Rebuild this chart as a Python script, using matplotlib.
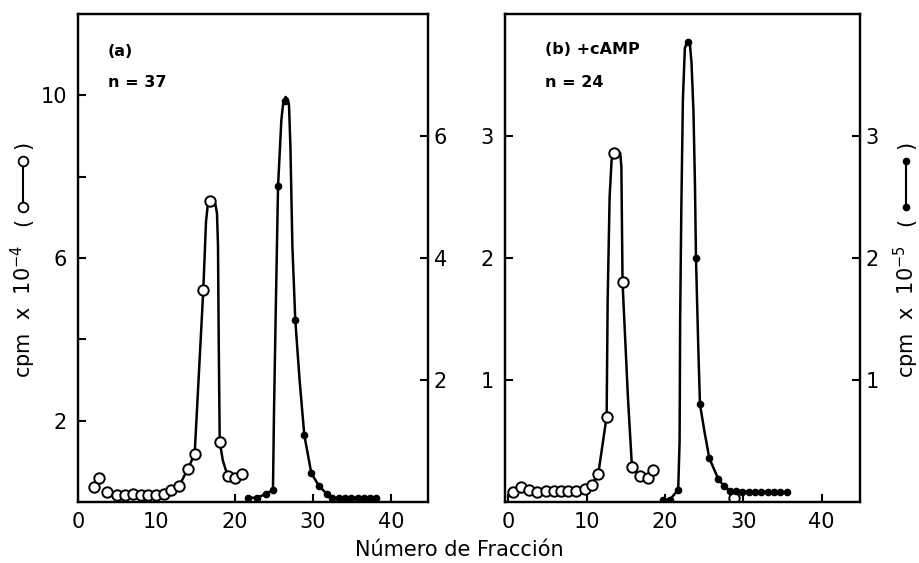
import matplotlib.pyplot as plt
from matplotlib.lines import Line2D

W, H = 919, 563

# ---- panel (a): n = 37 ----
# open circles, left axis (cpm x 10^-4)
a_open_x = [2.0, 2.7, 3.7, 5.0, 6.0, 7.0, 8.1, 9.0, 10.0, 11.0, 11.9, 12.9,
            14.0, 14.9, 16.0, 16.8, 18.1, 19.1, 20.0, 21.0]
a_open_y = [0.37, 0.58, 0.25, 0.17, 0.17, 0.20, 0.17, 0.17, 0.17, 0.20, 0.30, 0.39,
            0.80, 1.18, 5.21, 7.39, 1.48, 0.65, 0.58, 0.69]
# hand drawn curve through the open peak
a_open_line_x = [12.9, 14.0, 14.9, 15.45, 16.0, 16.35, 16.6, 16.8, 17.2, 17.55,
                 17.75, 17.88, 17.98, 18.1, 18.5, 19.1]
a_open_line_y = [0.39, 0.80, 1.18, 3.2, 5.21, 6.9, 7.35, 7.42, 7.42, 7.32,
                 7.1, 6.3, 3.8, 1.48, 1.02, 0.65]

# filled dots, right axis (cpm x 10^-5)
a_fill_x = [21.7, 22.8, 24.0, 24.9, 25.55, 26.5, 27.75, 28.9, 29.8, 30.8, 31.8,
            32.5, 33.3, 34.1, 34.9, 35.7, 36.5, 37.3, 38.0]
a_fill_y = [0.07, 0.07, 0.13, 0.20, 5.18, 6.58, 2.98, 1.10, 0.47, 0.26, 0.13,
            0.07, 0.07, 0.07, 0.07, 0.07, 0.07, 0.07, 0.07]
a_fill_line_x = [21.7, 22.8, 24.0, 24.9, 25.03, 25.25, 25.55, 25.97, 26.2, 26.5,
                 26.8, 26.95, 27.13, 27.38, 27.75, 28.3, 28.9, 29.8, 30.8, 31.8,
                 32.5, 38.0]
a_fill_line_y = [0.07, 0.07, 0.13, 0.20, 1.46, 3.1, 5.18, 6.26, 6.53, 6.64,
                 6.6, 6.5, 5.82, 4.19, 2.98, 2.0, 1.10, 0.47, 0.26, 0.13,
                 0.07, 0.07]

# ---- panel (b): +cAMP, n = 24 ----
b_open_x = [0.6, 1.7, 2.7, 3.7, 4.8, 5.8, 6.7, 7.7, 8.7, 9.8, 10.65, 11.5,
            12.57, 13.5, 14.6, 15.8, 16.8, 17.8, 18.5, 28.8]
b_open_y = [0.08, 0.12, 0.10, 0.08, 0.09, 0.09, 0.09, 0.09, 0.09, 0.11, 0.14, 0.23,
            0.70, 2.86, 1.80, 0.29, 0.21, 0.20, 0.26, 0.03]
b_open_line_x = [10.65, 11.5, 12.57, 12.7, 12.95, 13.2, 13.5, 14.0, 14.3, 14.45,
                 14.52, 14.6, 15.0, 15.3, 15.8]
b_open_line_y = [0.14, 0.23, 0.70, 1.66, 2.5, 2.8, 2.88, 2.88, 2.86, 2.75,
                 2.3, 1.80, 1.25, 0.84, 0.29]

b_fill_x = [19.8, 20.65, 21.7, 22.9, 23.97, 24.48, 25.67, 26.8, 27.55, 28.3, 29.1,
            29.9, 30.7, 31.5, 32.3, 33.1, 33.9, 34.7, 35.6]
b_fill_y = [0.02, 0.02, 0.10, 3.77, 2.00, 0.80, 0.36, 0.19, 0.13, 0.09, 0.09,
            0.08, 0.08, 0.08, 0.08, 0.08, 0.08, 0.08, 0.08]
b_fill_line_x = [19.8, 20.65, 21.7, 21.88, 21.95, 22.1, 22.3, 22.55, 22.9, 23.2,
                 23.4, 23.65, 23.84, 23.97, 24.27, 24.48, 25.1, 25.67, 26.8,
                 27.55, 28.3, 35.6]
b_fill_line_y = [0.02, 0.02, 0.10, 0.5, 1.5, 2.4, 3.3, 3.72, 3.78, 3.75,
                 3.6, 3.2, 2.6, 2.0, 1.25, 0.80, 0.56, 0.36, 0.19,
                 0.13, 0.09, 0.08]

x_ticks = [0, 10, 20, 30, 40]


def fx(px):
    return px / W


def fy(py):
    return 1 - py / H


def style_axis(ax, side):
    for sp in ax.spines.values():
        sp.set_linewidth(1.6)
    ax.tick_params(axis='y', direction='in', length=6, width=1.5,
                   labelsize=15, pad=8 if side == 'left' else 4)


def draw_panel(rect, xlim, ylim_l, ylim_r, yt_l, ytl_l, yt_r,
               open_xy, open_line, fill_xy, fill_line):
    ax = fig.add_axes(rect)
    ax.plot(open_line[0], open_line[1], color='black', lw=1.8, zorder=2)
    ax.plot(open_xy[0], open_xy[1], 'o', mfc='white', mec='black',
            ms=7.5, mew=1.4, zorder=3)
    ax.set_xlim(*xlim)
    ax.set_ylim(*ylim_l)
    ax.set_xticks(x_ticks)
    ax.set_yticks(yt_l)
    ax.set_yticklabels(ytl_l)
    ax.tick_params(axis='x', direction='in', length=6, width=1.5,
                   labelsize=15, pad=7)
    style_axis(ax, 'left')

    ax2 = ax.twinx()
    ax2.plot(fill_line[0], fill_line[1], color='black', lw=1.8, zorder=2)
    ax2.plot(fill_xy[0], fill_xy[1], 'o', color='black', ms=4.5, zorder=3)
    ax2.set_ylim(*ylim_r)
    ax2.set_yticks(yt_r)
    style_axis(ax2, 'right')
    return ax, ax2


fig = plt.figure(figsize=(W / 100, H / 100), dpi=100)

top, bottom = 14, 502
draw_panel([fx(78), fy(bottom), (428 - 78) / W, (bottom - top) / H],
           (0, 44.7), (0, 12), (0, 8),
           [2, 4, 6, 8, 10], ['2', '', '6', '', '10'], [2, 4, 6],
           (a_open_x, a_open_y), (a_open_line_x, a_open_line_y),
           (a_fill_x, a_fill_y), (a_fill_line_x, a_fill_line_y))

draw_panel([fx(505), fy(bottom), (860 - 505) / W, (bottom - top) / H],
           (-0.4, 44.9), (0, 4), (0, 4),
           [1, 2, 3], ['1', '2', '3'], [1, 2, 3],
           (b_open_x, b_open_y), (b_open_line_x, b_open_line_y),
           (b_fill_x, b_fill_y), (b_fill_line_x, b_fill_line_y))

# panel annotations
fig.text(fx(108), fy(52), '(a)', fontsize=11.5, fontweight='bold', va='center')
fig.text(fx(108), fy(83), 'n = 37', fontsize=11.5, fontweight='bold', va='center')
fig.text(fx(545), fy(50), '(b) +cAMP', fontsize=11.5, fontweight='bold', va='center')
fig.text(fx(545), fy(83), 'n = 24', fontsize=11.5, fontweight='bold', va='center')

fig.text(0.5, fy(550), 'Número de Fracción', fontsize=15, ha='center', va='center')


# y labels with the little series symbol between brackets
def ylabel_with_symbol(px, text, filled):
    fig.text(fx(px), fy(378), text, rotation=90, fontsize=15,
             ha='center', va='bottom')
    fig.text(fx(px), fy(222), '(', rotation=90, fontsize=15,
             ha='center', va='center')
    if filled:
        sym = dict(marker='o', color='black', ms=4.5)
    else:
        sym = dict(marker='o', mfc='white', mec='black', ms=7, mew=1.3, color='black')
    fig.add_artist(Line2D([fx(px), fx(px)], [fy(207), fy(161)],
                          transform=fig.transFigure, lw=1.5, **sym))
    fig.text(fx(px), fy(145), ')', rotation=90, fontsize=15,
             ha='center', va='center')


ylabel_with_symbol(23, 'cpm  x  10$^{-4}$', False)
ylabel_with_symbol(906, 'cpm  x  10$^{-5}$', True)

fig.savefig('out.png', dpi=100)
